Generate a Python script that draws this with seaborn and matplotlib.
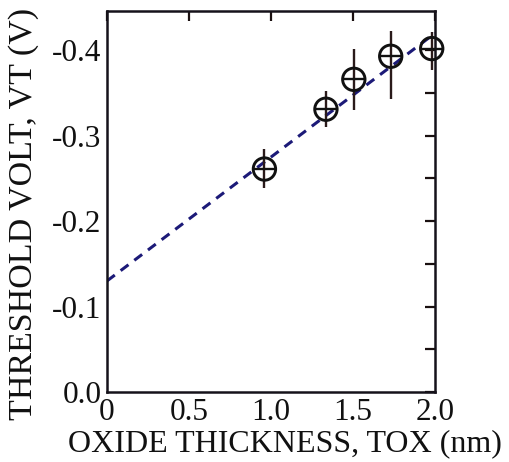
import numpy as np
import pandas as pd
import matplotlib
matplotlib.use("Agg")
import matplotlib.pyplot as plt
import seaborn as sns
from matplotlib.ticker import MultipleLocator

# Measured threshold voltage vs. oxide thickness
tox_nm = [0.96, 1.335, 1.505, 1.73, 1.98]
vt_volt = [-0.261, -0.331, -0.366, -0.393, -0.402]
vt_err_low = [0.022, 0.021, 0.036, 0.050, 0.025]   # toward 0 V
vt_err_high = [0.023, 0.021, 0.036, 0.030, 0.019]  # toward more negative

# Linear fit line
fit_tox = [0.0, 2.0]
fit_vt = [-0.130, -0.420]

x_ticks = [0.0, 0.5, 1.0, 1.5, 2.0]
x_tick_labels = ["0", "0.5", "1.0", "1.5", "2.0"]
y_ticks = [0.0, -0.1, -0.2, -0.3, -0.4]
y_tick_labels = ["0.0", "-0.1", "-0.2", "-0.3", "-0.4"]

sns.set_theme(style="white")
plt.rcParams["font.family"] = ["Liberation Serif", "DejaVu Serif"]
plt.rcParams["axes.unicode_minus"] = False

fig = plt.figure(figsize=(5.09, 4.62), dpi=100)
ax = fig.add_axes([0.2102, 0.1515, 0.6444, 0.8247])

meas = pd.DataFrame({"tox": tox_nm, "vt": vt_volt})
fit = pd.DataFrame({"tox": fit_tox, "vt": fit_vt})

sns.lineplot(data=fit, x="tox", y="vt", ax=ax, color="#1c1a78",
             linestyle=(0, (3.2, 2.4)), linewidth=2.2, zorder=2)

eb = ax.errorbar(tox_nm, vt_volt,
                 yerr=[vt_err_high, vt_err_low],
                 fmt="none", ecolor="#2a1a1a", elinewidth=1.7, capsize=0, zorder=3)
for coll in eb.lines[2]:
    coll.set_clip_on(False)
sns.scatterplot(data=meas, x="tox", y="vt", ax=ax, marker="o", s=260,
                facecolor="none", edgecolor="#111111", linewidth=2.1, zorder=4)
sns.scatterplot(data=meas, x="tox", y="vt", ax=ax, marker="_", s=260,
                color="#111111", linewidth=1.7, zorder=4)
for coll in ax.collections:
    coll.set_clip_on(False)

ax.set_xlim(0, 2.0)
ax.set_ylim(0, -0.446)

ax.set_xticks(x_ticks)
ax.set_xticklabels(x_tick_labels)
ax.set_yticks(y_ticks)
ax.set_yticklabels(y_tick_labels)
ax.yaxis.set_minor_locator(MultipleLocator(0.05))

ax.tick_params(axis="both", which="both", direction="in", top=True, right=True,
               color="#1a1010", width=1.6, labelsize=22.5, pad=4, labelcolor="#111111")
ax.tick_params(axis="both", which="both", length=7)

for side in ["left", "right", "top", "bottom"]:
    ax.spines[side].set_visible(True)
    ax.spines[side].set_color("#15121a")
    ax.spines[side].set_linewidth(1.8)

ax.set_xlabel("OXIDE THICKNESS, TOX (nm)", fontsize=23, color="#111111")
ax.set_ylabel("THRESHOLD VOLT, VT (V)", fontsize=24.5, color="#111111")
ax.xaxis.set_label_coords(0.543, -0.097)
ax.yaxis.set_label_coords(-0.207, 0.467)
ax.grid(False)

fig.savefig("out.png", dpi=100)
